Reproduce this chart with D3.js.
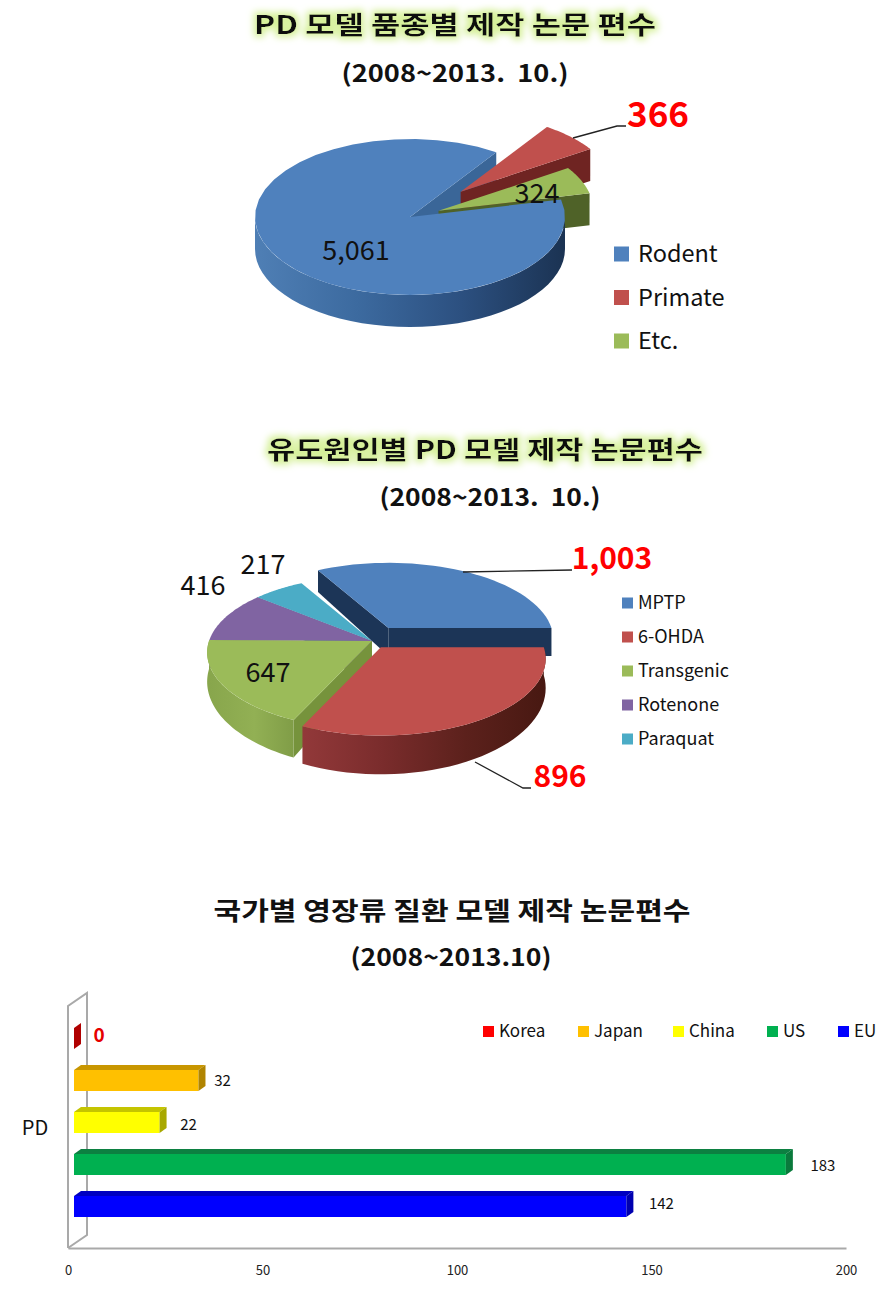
<!DOCTYPE html>
<html><head><meta charset="utf-8">
<script src="https://cdn.jsdelivr.net/npm/d3@7"></script>
<style>
html,body{margin:0;padding:0;background:#fff}
svg{display:block}
text{font-family:"Noto Sans CJK KR","Noto Sans",sans-serif;fill:#111;white-space:pre}
</style></head><body><svg id="c" width="893" height="1301" xmlns="http://www.w3.org/2000/svg"></svg>
<script>
// ---- data ----
const breedCategories = ["Rodent","Primate","Etc."];
const breedValues = [5061,366,324];
const breedLabels = ["5,061","366","324"];
const inducerCategories = ["MPTP","6-OHDA","Transgenic","Rotenone","Paraquat"];
const inducerValues = [1003,896,647,416,217];
const inducerLabels = ["1,003","896","647","416","217"];
const countries = ["Korea","Japan","China","US","EU"];
const countryValues = [0,32,22,183,142];
const xTicks = [0,50,100,150,200];
const barCategory = "PD";

const rad = d => d*Math.PI/180;
const svg = d3.select("#c");
const defs = svg.append("defs");
const glow = defs.append("filter").attr("id","glow").attr("x","-10%").attr("y","-50%").attr("width","120%").attr("height","200%");
glow.append("feMorphology").attr("in","SourceAlpha").attr("operator","dilate").attr("radius",3).attr("result","d");
glow.append("feGaussianBlur").attr("in","d").attr("stdDeviation",3.5).attr("result","b");
glow.append("feFlood").attr("flood-color","#d6f09a").attr("result","f");
glow.append("feComposite").attr("in","f").attr("in2","b").attr("operator","in").attr("result","g");
const gm = glow.append("feMerge"); gm.append("feMergeNode").attr("in","g"); gm.append("feMergeNode").attr("in","SourceGraphic");

function grad(id,x0,x1,stops){
  const g = defs.append("linearGradient").attr("id",id).attr("gradientUnits","userSpaceOnUse")
    .attr("x1",x0).attr("x2",x1).attr("y1",0).attr("y2",0);
  stops.forEach((c,i)=>g.append("stop").attr("offset",i/(stops.length-1)).attr("stop-color",c));
  return `url(#${id})`;
}
function txt(x,y,s,size,o={}){
  const t = svg.append("text").attr("x",x).attr("y",y).attr("dy","0.36em").attr("font-size",size).text(s)
   .attr("text-anchor",o.anchor||"middle").attr("font-weight",o.bold?700:400);
  if(o.fill) t.style("fill",o.fill);
  if(o.filter) t.attr("filter",o.filter);
  if(o.len) t.attr("textLength",o.len).attr("lengthAdjust","spacingAndGlyphs");
  return t;
}
const lineGen = d3.line();

function pie3d(cfg,values){
  const arcs = d3.pie().sort(null).startAngle(rad(cfg.start)).endAngle(rad(cfg.start+360))(values);
  const warp = d => d + cfg.C + cfg.K*Math.sin(rad(d-cfg.phase));
  const g = svg.append("g");
  const sl = arcs.map((a,i)=>{
    const a0 = warp(a.startAngle*180/Math.PI), a1 = warp(a.endAngle*180/Math.PI), m=(a0+a1)/2, e=cfg.explode[i];
    return {i,a0,a1,ox:cfg.rx*Math.sin(rad(m))*e,oy:-cfg.ry*Math.cos(rad(m))*e};
  });
  const pt=(s,th,z,r=1)=>{
    const u=Math.sin(rad(th))*r, v=-Math.cos(rad(th))*r, k=1/(1-cfg.p*v);
    return [cfg.cx+s.ox+cfg.rx*u*k, cfg.cy+s.oy+cfg.ry*v*k+z*cfg.depth*k*k];
  };
  const samples=(a,b)=>d3.range(0,41).map(j=>a+(b-a)*j/40);
  function draw(i,parts){
    const s=sl[i], c=cfg.colors[i];
    if(parts.includes("wall")){
      const wall=(th)=>g.append("path").attr("fill",c.wall)
        .attr("d",lineGen([pt(s,th,0,0),pt(s,th,0),pt(s,th,1),pt(s,th,1,0)])+"Z");
      if(Math.sin(rad(s.a0))<0) wall(s.a0);
      if(Math.sin(rad(s.a1))>0) wall(s.a1);
    }
    if(parts.includes("side")){
      [[90,270],[450,630]].forEach(([w0,w1])=>{
        const a=Math.max(s.a0,w0), b=Math.min(s.a1,w1);
        if(b>a){
          const ths=samples(a,b);
          g.append("path").attr("fill",c.side)
           .attr("d",lineGen(ths.map(t=>pt(s,t,0)).concat(ths.slice().reverse().map(t=>pt(s,t,1))))+"Z");
        }
      });
    }
    if(parts.includes("top")){
      g.append("path").attr("fill",c.top)
       .attr("d",lineGen([pt(s,s.a0,0,0)].concat(samples(s.a0,s.a1).map(t=>pt(s,t,0))))+"Z");
    }
  }
  cfg.layers.forEach(([i,p])=>draw(i,p));
}

// ---- chart 1 ----
txt(455,25,"PD 모델 품종별 제작 논문 편수",25,{bold:true,filter:"url(#glow)",len:402});
txt(455,73,"(2008~2013.  10.)",24,{bold:true,len:227});
pie3d({cx:410,cy:217,rx:155,ry:78,p:0,depth:32,start:77,C:0,K:0,phase:0,explode:[0,.46,.2],
  colors:[
    {top:"#4f81bd",wall:"#3a6698",side:grad("s1",255,564,["#4f7fb5","#3c6a9f","#2c5080","#1b3353"])},
    {top:"#c0504d",wall:"#6f2422",side:"#6f2422"},
    {top:"#9bbb59",wall:"#4f6228",side:"#4f6228"}],
  layers:[[0,["wall"]],[1,["wall","side","top"]],[2,["wall","side","top"]],[0,["side","top"]]]},breedValues);
svg.append("path").attr("fill","none").attr("stroke","#222").attr("stroke-width",1.3)
  .attr("d",lineGen([[573,138],[617,126],[626,126]]));
txt(658,114,breedLabels[1],35,{bold:true,fill:"#ff0000"});
txt(356,250,breedLabels[0],27);
txt(537,193,breedLabels[2],27);
const lg1 = d3.scalePoint().domain(breedCategories).range([254,341]);
const c1 = ["#4f81bd","#c0504d","#9bbb59"];
breedCategories.forEach((d,i)=>{
  svg.append("rect").attr("x",614).attr("y",lg1(d)-7.5).attr("width",15).attr("height",15).attr("fill",c1[i]);
  txt(638,lg1(d),d,23.5,{anchor:"start"});
});

// ---- chart 2 ----
txt(485,450,"유도원인별 PD 모델 제작 논문편수",25,{bold:true,filter:"url(#glow)",len:436});
txt(490,497,"(2008~2013.  10.)",24,{bold:true,len:221});
pie3d({cx:372,cy:641,rx:163,ry:75,p:.15,depth:28,start:329,C:10,K:10.5,phase:97,explode:[.2,.1,0,0,0],
  colors:[
    {top:"#4f81bd",wall:"#1c3557",side:"#1c3557"},
    {top:"#c0504d",wall:"#6f2422",side:grad("s2",300,548,["#93393a","#7a2c2c","#5c211c","#471811"])},
    {top:"#9bbb59",wall:"#76933c",side:grad("s3",209,300,["#88a64c","#92b054","#7d9a45"])},
    {top:"#8064a2",wall:"#5f4a7a",side:"#5f4a7a"},
    {top:"#4bacc6",wall:"#31859c",side:"#31859c"}],
  layers:[[4,["wall","side","top"]],[3,["wall","side","top"]],[2,["wall","side","top"]],[0,["wall","side","top"]],[1,["wall","side","top"]]]},inducerValues);
svg.append("path").attr("fill","none").attr("stroke","#222").attr("stroke-width",1.3)
  .attr("d",lineGen([[463,572],[572,570]]));
svg.append("path").attr("fill","none").attr("stroke","#222").attr("stroke-width",1.3)
  .attr("d",lineGen([[475,762],[523,788],[531,788]]));
txt(612,558,inducerLabels[0],30,{bold:true,fill:"#ff0000"});
txt(560,776,inducerLabels[1],30,{bold:true,fill:"#ff0000"});
txt(268,672,inducerLabels[2],27);
txt(203,585,inducerLabels[3],27);
txt(263,564,inducerLabels[4],27);
const lg2 = d3.scalePoint().domain(inducerCategories).range([603,739]);
const c2 = ["#4f81bd","#c0504d","#9bbb59","#8064a2","#4bacc6"];
inducerCategories.forEach((d,i)=>{
  svg.append("rect").attr("x",622).attr("y",lg2(d)-5.5).attr("width",11).attr("height",11).attr("fill",c2[i]);
  txt(638,lg2(d),d,18,{anchor:"start"});
});

// ---- chart 3 ----
txt(452,911,"국가별 영장류 질환 모델 제작 논문편수",25,{bold:true,len:477});
txt(451,957,"(2008~2013.10)",24,{bold:true,len:201});
const x = d3.scaleLinear().domain([0,200]).range([68,846]);
const y = d3.scalePoint().domain(countries).range([1028,1196]);
const barColors = {Korea:{f:"#ff0000",t:"#b00000",s:"#b00000"},Japan:{f:"#ffc000",t:"#c89600",s:"#b08400"},
  China:{f:"#ffff00",t:"#c4c400",s:"#a8a800"},US:{f:"#00b050",t:"#0c8041",s:"#0a7a3c"},EU:{f:"#0000ff",t:"#0000c0",s:"#0000b0"}};
const X0=x(0)+6, BH=21, DX=7, DY=5;
const frame = svg.append("g").attr("fill","none").attr("stroke","#a9a9a9").attr("stroke-width",2);
frame.append("path").attr("d",lineGen([[x(0),1248],[x(0),1006],[x(0)+19,993],[x(0)+19,1235],[x(0),1248]]));
countries.forEach((d,i)=>{
  const w=x(countryValues[i])-x(0), t=y(d), c=barColors[d];
  if(w>0){
    svg.append("rect").attr("x",X0).attr("y",t).attr("width",w).attr("height",BH).attr("fill",c.f);
    svg.append("path").attr("fill",c.t).attr("d",lineGen([[X0,t],[X0+DX,t-DY],[X0+w+DX,t-DY],[X0+w,t]])+"Z");
  }
  svg.append("path").attr("fill",c.s).attr("d",lineGen([[X0+w,t],[X0+w+DX,t-DY],[X0+w+DX,t+BH-DY],[X0+w,t+BH]])+"Z");
});
const labelDx=[20,17,22,30,28], labelY=[1035,1081,1125,1166,1204];
countries.forEach((d,i)=>{
  const lx=X0+x(countryValues[i])-x(0)+DX+labelDx[i];
  if(i===0) txt(lx-2,labelY[i],String(countryValues[i]),19,{bold:true,fill:"#e60000"});
  else txt(lx,labelY[i],String(countryValues[i]),15);
});
txt(35,1128,barCategory,20);
const axis = svg.append("g").attr("transform","translate(0,1248)").call(d3.axisBottom(x).tickValues(xTicks).tickSize(0).tickPadding(18));
axis.select(".domain").attr("stroke","#a9a9a9").attr("stroke-width",2);
axis.selectAll("text").attr("font-size",13).style("font-family",'"Noto Sans CJK KR","Noto Sans",sans-serif').style("fill","#222");
const lgX = d3.scaleOrdinal().domain(countries).range([483,578,673,767,838]);
countries.forEach(d=>{
  svg.append("rect").attr("x",lgX(d)).attr("y",1026).attr("width",11).attr("height",11).attr("fill",barColors[d].f);
  txt(lgX(d)+16,1031,d,17,{anchor:"start"});
});
</script></body></html>
